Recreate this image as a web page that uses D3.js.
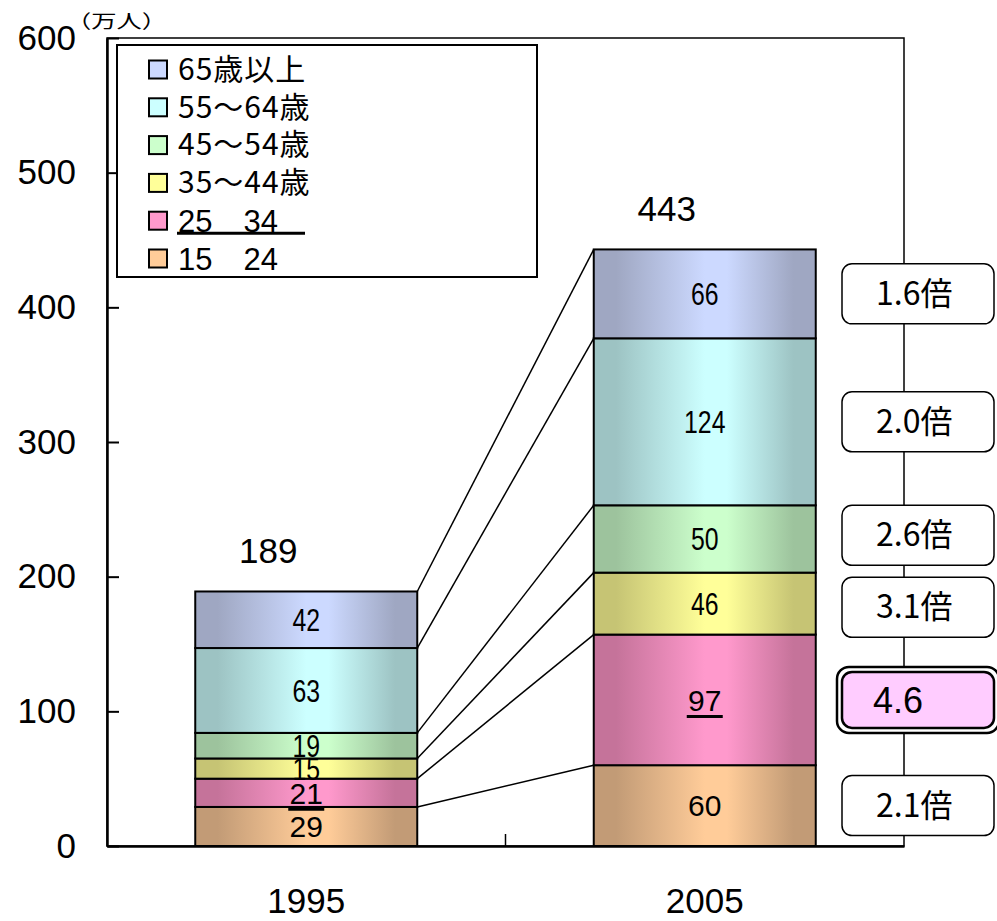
<!DOCTYPE html>
<html>
<head>
<meta charset="utf-8">
<script src="https://cdn.jsdelivr.net/npm/d3@7"></script>
<style>
  body { margin: 0; background: #fff; }
  svg { display: block; }
</style>
</head>
<body>
<svg id="chart" width="997" height="921"></svg>
<script>
// ---- data ----
const years = ["1995", "2005"];
const ageGroups = ["15～24歳", "25～34歳", "35～44歳", "45～54歳", "55～64歳", "65歳以上"];
const legendLabels = ["15\u300024", "25\u300034", "35～44歳", "45～54歳", "55～64歳", "65歳以上"];
const values1995 = [29, 21, 15, 19, 63, 42];
const values2005 = [60, 97, 46, 50, 124, 66];
const ratioLabels = ["2.1倍", "4.6", "3.1倍", "2.6倍", "2.0倍", "1.6倍"];
const yTicks = [0, 100, 200, 300, 400, 500, 600];
const unitLabel = "（万人）";

// ---- styling ----
const centerColors = ["#FFCC99", "#FF99CC", "#FFFF99", "#CCFFCC", "#CCFFFF", "#CCD9FF"];
const edgeColors   = ["#C29B76", "#C5739A", "#C6C474", "#9DC39D", "#9DC3C3", "#9FA7C2"];
const plainFontGroups = new Set([0, 1]);   // groups labelled in the regular face
const underlinedGroup = 1;                 // 25～34 is emphasised
const LATIN = "'Liberation Sans', Arial, sans-serif";
const CJK = "'Noto Sans CJK JP', 'Noto Sans', sans-serif";

const svg = d3.select("#chart");
const margin = { left: 107, right: 904, top: 38, bottom: 846 };

const x = d3.scaleBand().domain(years).range([margin.left, margin.right]).padding(0);
const y = d3.scaleLinear().domain([0, 600]).range([margin.bottom, margin.top]);
const barW = 222;

// stacked series
const table = years.map((yr, i) => {
  const row = { year: yr };
  ageGroups.forEach((g, k) => row[g] = (i === 0 ? values1995 : values2005)[k]);
  return row;
});
const stacked = d3.stack().keys(ageGroups)(table);

// gradients: darker at both edges, bright just right of centre
const defs = svg.append("defs");
ageGroups.forEach((g, k) => {
  const lg = defs.append("linearGradient").attr("id", "grad" + k)
    .attr("x1", "0%").attr("x2", "100%").attr("y1", "0%").attr("y2", "0%");
  [[0, edgeColors[k]], [0.1, edgeColors[k]], [0.5, centerColors[k]], [0.6, centerColors[k]],
   [0.9, edgeColors[k]], [1, edgeColors[k]]].forEach(([o, c]) =>
    lg.append("stop").attr("offset", o).attr("stop-color", c));
});

// plot frame
svg.append("rect")
  .attr("x", margin.left).attr("y", margin.top)
  .attr("width", margin.right - margin.left).attr("height", margin.bottom - margin.top)
  .attr("fill", "none").attr("stroke", "#000").attr("stroke-width", 1.5);

// y axis
const yAxis = svg.append("g")
  .attr("transform", `translate(${margin.left},0)`)
  .call(d3.axisLeft(y).tickValues(yTicks).tickFormat(d3.format("d"))
    .tickSizeInner(-12).tickSizeOuter(0).tickPadding(31));
yAxis.select(".domain").attr("stroke", "#000").attr("stroke-width", 2.5);
yAxis.selectAll(".tick line").attr("stroke", "#000").attr("stroke-width", 2);
yAxis.selectAll(".tick text").attr("font-family", LATIN).attr("font-size", 35).attr("fill", "#000");

// x axis
const xAxis = svg.append("g")
  .attr("transform", `translate(0,${margin.bottom})`)
  .call(d3.axisBottom(x).tickSize(0).tickPadding(42));
xAxis.select(".domain").attr("stroke", "#000").attr("stroke-width", 2.5);
xAxis.selectAll(".tick text").attr("font-family", LATIN).attr("font-size", 35).attr("fill", "#000");
// divider tick between the two categories
svg.append("line")
  .attr("x1", x("2005")).attr("x2", x("2005"))
  .attr("y1", margin.bottom).attr("y2", margin.bottom - 12)
  .attr("stroke", "#000").attr("stroke-width", 1.5);

const barLeft = yr => x(yr) + x.bandwidth() / 2 - barW / 2;
const barCenter = yr => x(yr) + x.bandwidth() / 2;

// connector lines between cumulative boundaries
const connectors = svg.append("g");
stacked.forEach(layer => {
  connectors.append("line")
    .attr("x1", barLeft("1995") + barW).attr("y1", y(layer[0][1]))
    .attr("x2", barLeft("2005")).attr("y2", y(layer[1][1]))
    .attr("stroke", "#000").attr("stroke-width", 1.5);
});

// bars
const bars = svg.append("g");
stacked.forEach((layer, k) => {
  bars.selectAll(null).data(layer).join("rect")
    .attr("x", d => barLeft(d.data.year))
    .attr("y", d => y(d[1]))
    .attr("width", barW)
    .attr("height", d => y(d[0]) - y(d[1]))
    .attr("fill", `url(#grad${k})`)
    .attr("stroke", "#000").attr("stroke-width", 2);
});

// segment value labels
const segLabels = svg.append("g");
stacked.forEach((layer, k) => {
  layer.forEach(d => {
    const cx = barCenter(d.data.year);
    const cy = y((d[0] + d[1]) / 2);
    const v = d[1] - d[0];
    const plain = plainFontGroups.has(k);
    segLabels.append("text")
      .attr("transform", `translate(${cx},${cy}) scale(${plain ? 1 : 0.8},1)`)
      .attr("text-anchor", "middle").attr("dy", "0.36em")
      .attr("font-family", LATIN).attr("font-size", plain ? 30 : 31).attr("fill", "#000")
      .text(v);
    if (k === underlinedGroup) {
      segLabels.append("line")
        .attr("x1", cx - 18).attr("x2", cx + 18)
        .attr("y1", cy + 16.5).attr("y2", cy + 16.5)
        .attr("stroke", "#000").attr("stroke-width", 3);
    }
  });
});

// totals above each bar
const topLayer = stacked[stacked.length - 1];
topLayer.forEach(d => {
  svg.append("text")
    .attr("x", barCenter(d.data.year) - 38).attr("y", y(d[1]) - 28)
    .attr("text-anchor", "middle")
    .attr("font-family", LATIN).attr("font-size", 35).attr("fill", "#000")
    .text(d[1]);
});

// unit label
svg.append("text")
  .attr("transform", "translate(66,28) scale(1.15,0.85)")
  .attr("font-family", CJK).attr("font-size", 22).attr("fill", "#000")
  .text(unitLabel);

// legend
const legend = svg.append("g");
legend.append("rect")
  .attr("x", 117).attr("y", 45).attr("width", 420).attr("height", 232)
  .attr("fill", "#fff").attr("stroke", "#000").attr("stroke-width", 2);
const legendOrder = d3.range(ageGroups.length).reverse();
legendOrder.forEach((k, row) => {
  const cy = 69.5 + row * 37.8;
  legend.append("rect")
    .attr("x", 149).attr("y", cy - 9).attr("width", 18).attr("height", 18)
    .attr("fill", centerColors[k]).attr("stroke", "#000").attr("stroke-width", 2);
  const plain = plainFontGroups.has(k);
  legend.append("text")
    .attr("x", 178).attr("y", cy)
    .attr("dy", plain ? "0.36em" : "0.34em")
    .attr("font-family", plain ? LATIN : CJK).attr("font-size", plain ? 31 : 30)
    .attr("letter-spacing", plain ? 0 : 1)
    .attr("fill", "#000")
    .text(legendLabels[k]);
  if (k === underlinedGroup) {
    legend.append("line")
      .attr("x1", 177).attr("x2", 305).attr("y1", cy + 12.5).attr("y2", cy + 12.5)
      .attr("stroke", "#000").attr("stroke-width", 3);
  }
});

// growth-ratio boxes beside the 2005 bar, placed at segment centres
const boxW = 152, boxH = 60, boxX = 842;
const boxes = stacked.map((layer, k) => ({ k, cy: y((layer[1][0] + layer[1][1]) / 2) }));
const sortedBoxes = boxes.slice().sort((a, b) => a.cy - b.cy);
for (let it = 0; it < 20; it++) {
  for (let i = 1; i < sortedBoxes.length; i++) {
    const a = sortedBoxes[i - 1], b = sortedBoxes[i];
    const gap = b.cy - a.cy, need = boxH + 12;
    if (gap < need) { const s = (need - gap) / 2; a.cy -= s; b.cy += s; }
  }
}
const boxG = svg.append("g");
boxes.forEach(b => {
  const hi = b.k === underlinedGroup;
  if (hi) {
    // double outline for the emphasised box
    boxG.append("rect")
      .attr("x", boxX - 5).attr("y", b.cy - boxH / 2 - 3)
      .attr("width", boxW + 10).attr("height", boxH + 6)
      .attr("rx", 12).attr("fill", "#fff").attr("stroke", "#000").attr("stroke-width", 2.5);
  }
  boxG.append("rect")
    .attr("x", boxX).attr("y", b.cy - boxH / 2 + (hi ? 2 : 0))
    .attr("width", boxW).attr("height", boxH - (hi ? 4 : 0))
    .attr("rx", 10).attr("fill", hi ? "#FFCCFF" : "#fff")
    .attr("stroke", "#000").attr("stroke-width", hi ? 2.5 : 1.5);
  boxG.append("text")
    .attr("x", hi ? 873 : 876).attr("y", b.cy)
    .attr("dy", hi ? "0.36em" : "0.35em")
    .attr("font-family", hi ? LATIN : CJK).attr("font-size", hi ? 36 : 32)
    .attr("fill", "#000")
    .text(ratioLabels[b.k]);
});
</script>
</body>
</html>
